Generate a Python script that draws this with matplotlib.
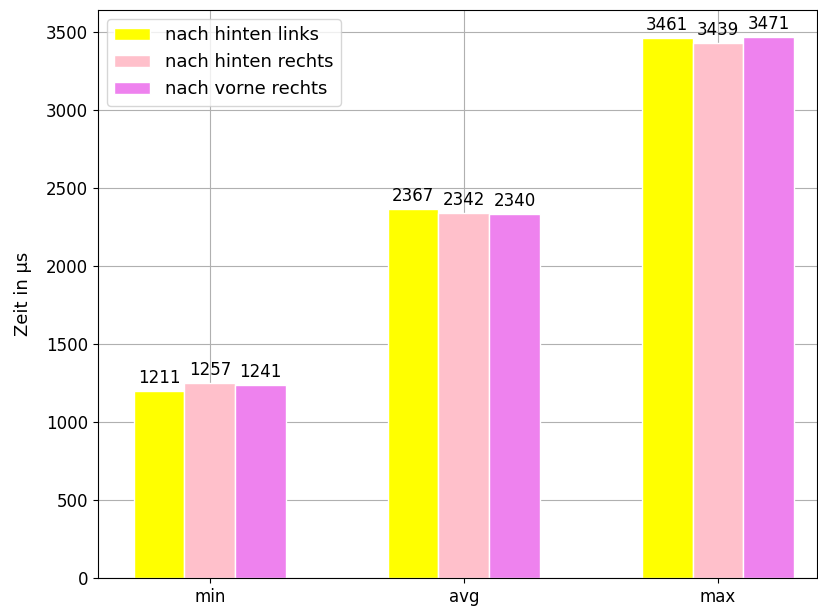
import matplotlib.pyplot as plt
import numpy as np

categories = ['min', 'avg', 'max']
series_names = ['nach hinten links', 'nach hinten rechts', 'nach vorne rechts']
colors = ['yellow', 'pink', 'violet']
# bar heights
heights = [
    [1200, 2365, 3461],
    [1250, 2340, 3429],
    [1237, 2333, 3468],
]
# printed values above the bars
value_labels = [
    [1211, 2367, 3461],
    [1257, 2342, 3439],
    [1241, 2340, 3471],
]

plt.rcParams['font.size'] = 12

fig, ax = plt.subplots(figsize=(8.18, 6.1), dpi=100)
plt.subplots_adjust(left=98 / 818, right=817 / 818, top=1 - 10 / 610, bottom=1 - 578 / 610)

x = np.arange(len(categories))
width = 0.2
for i in range(3):
    bars = ax.bar(x + (i - 1) * width, heights[i], width, color=colors[i],
                  edgecolor='white', label=series_names[i])
    for b, v in zip(bars, value_labels[i]):
        ax.annotate(str(v), (b.get_x() + b.get_width() / 2, b.get_height()),
                    xytext=(0, 3), textcoords='offset points',
                    ha='center', va='bottom')

ax.set_xticks(x)
ax.set_xticklabels(categories)
ax.set_xlim(-0.44, 2.39)
ax.set_ylabel('Zeit in µs', fontsize=13, labelpad=10)
ax.set_axisbelow(True)
ax.grid(True)
ax.legend(loc='upper left', fontsize=13)

plt.savefig('out.png', dpi=100)
